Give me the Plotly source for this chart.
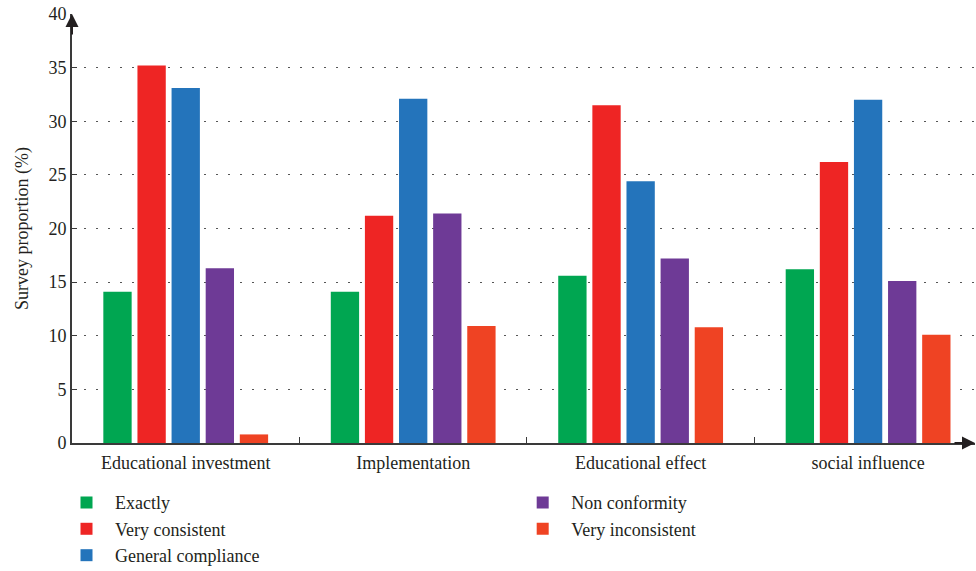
import plotly.graph_objects as go

categories = ["Educational investment", "Implementation", "Educational effect", "social influence"]
series_names = ["Exactly", "Very consistent", "General compliance", "Non conformity", "Very inconsistent"]
exactly = [14.1, 14.1, 15.6, 16.2]
very_consistent = [35.2, 21.2, 31.5, 26.2]
general_compliance = [33.1, 32.1, 24.4, 32.0]
non_conformity = [16.3, 21.4, 17.2, 15.1]
very_inconsistent = [0.8, 10.9, 10.8, 10.1]
y_ticks = [0, 5, 10, 15, 20, 25, 30, 35, 40]

values = [exactly, very_consistent, general_compliance, non_conformity, very_inconsistent]
colors = ["#00A651", "#EE2524", "#2474BB", "#6E3A96", "#EF4323"]
legends = ["legend", "legend", "legend", "legend2", "legend2"]

FONT = "Liberation Serif"
TXT = "#231F20"

fig = go.Figure()
for name, vals, col, lg in zip(series_names, values, colors, legends):
    fig.add_trace(go.Bar(x=categories, y=vals, name=name, marker=dict(color=col, line=dict(width=0)),
                         legend=lg))

fig.update_layout(
    width=976, height=571,
    margin=dict(l=72, r=1, t=14, b=128, autoexpand=False),
    paper_bgcolor="white", plot_bgcolor="white",
    font=dict(family=FONT, size=17, color=TXT),
    barmode="group", bargap=0.25, bargroupgap=0.17,
    legend=dict(x=-0.0155, y=-0.096, xanchor="left", yanchor="top", orientation="v", itemwidth=47,
                font=dict(family=FONT, size=18, color=TXT), tracegroupgap=0, bgcolor="rgba(0,0,0,0)"),
    legend2=dict(x=0.4897, y=-0.096, xanchor="left", yanchor="top", orientation="v", itemwidth=47,
                 font=dict(family=FONT, size=18, color=TXT), tracegroupgap=0, bgcolor="rgba(0,0,0,0)"),
)

fig.update_xaxes(
    range=[-0.5, 3.47], showline=True, linecolor="#3a3a3a", linewidth=2, automargin=False,
    ticks="inside", tickson="boundaries", ticklen=6, tickcolor="#3a3a3a", tickwidth=1,
    showgrid=False, tickfont=dict(family=FONT, size=18, color=TXT), ticklabelstandoff=2,
)
fig.update_yaxes(
    range=[0, 40], tickvals=y_ticks, showline=True, linecolor="#3a3a3a", linewidth=2, automargin=False,
    ticks="inside", ticklen=5, tickcolor="#3a3a3a", tickwidth=1,
    showgrid=True, gridcolor="#555555", gridwidth=1, griddash="2px,10px",
    zeroline=False, tickfont=dict(family=FONT, size=18, color=TXT),
    title=dict(text="Survey proportion (%)", font=dict(family=FONT, size=18, color=TXT), standoff=15),
)

# axis arrows
fig.add_annotation(x=0, y=1, xref="paper", yref="paper", ax=0, ay=22, axref="pixel", ayref="pixel",
                   text="", showarrow=True, arrowhead=2, arrowsize=1.3, arrowwidth=2, arrowcolor=TXT)
fig.add_annotation(x=1, y=0, xref="paper", yref="paper", ax=-22, ay=0, axref="pixel", ayref="pixel",
                   text="", showarrow=True, arrowhead=2, arrowsize=1.3, arrowwidth=2, arrowcolor=TXT)

fig.write_html("out.html", config={"displayModeBar": False},
               post_script="document.body.style.margin='0';document.body.style.overflow='hidden';")
